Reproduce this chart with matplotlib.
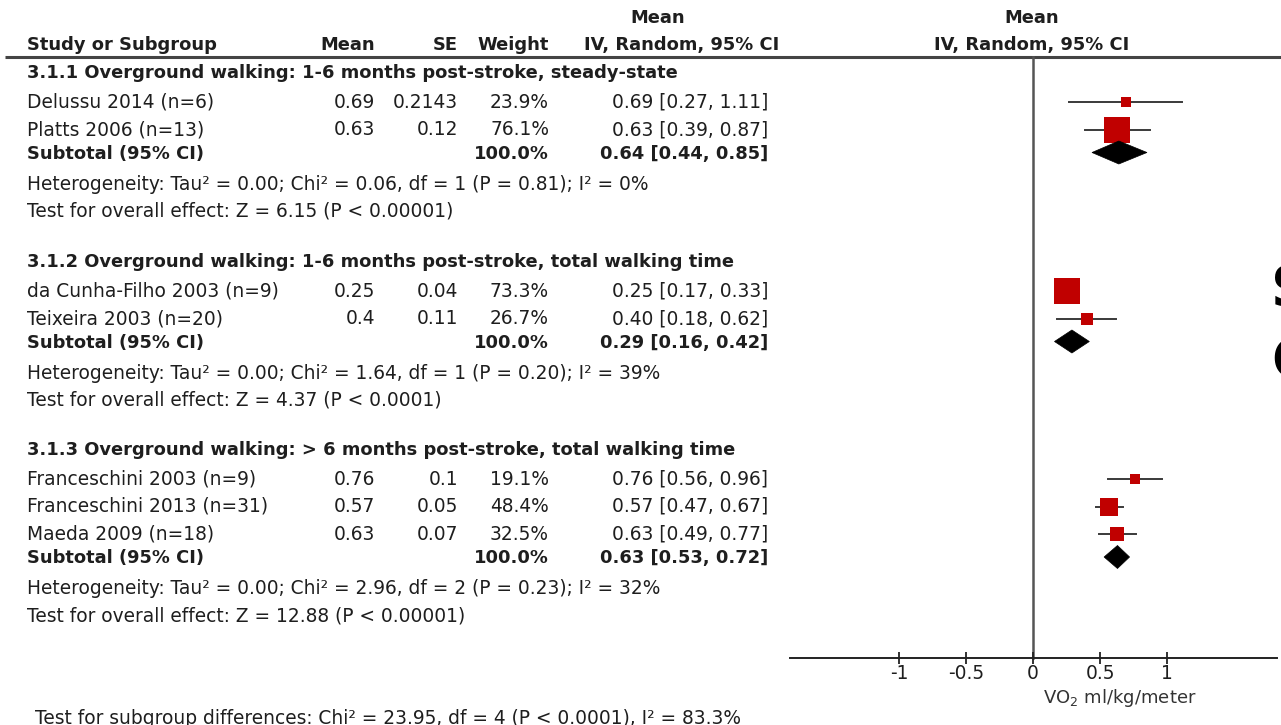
import matplotlib
matplotlib.use("Agg")
import matplotlib.pyplot as plt
from matplotlib.patches import Polygon

plt.rcParams['font.family'] = ['DejaVu Sans']
plt.rcParams['mathtext.fontset'] = 'dejavusans'

# ---- data -------------------------------------------------------------
group_titles = [
    "3.1.1 Overground walking: 1-6 months post-stroke, steady-state",
    "3.1.2 Overground walking: 1-6 months post-stroke, total walking time",
    "3.1.3 Overground walking: > 6 months post-stroke, total walking time",
]
study_names = [
    "Delussu 2014 (n=6)", "Platts 2006 (n=13)",
    "da Cunha-Filho 2003 (n=9)", "Teixeira 2003 (n=20)",
    "Franceschini 2003 (n=9)", "Franceschini 2013 (n=31)", "Maeda 2009 (n=18)",
]
study_group = [0, 0, 1, 1, 2, 2, 2]
study_mean = [0.69, 0.63, 0.25, 0.4, 0.76, 0.57, 0.63]
study_se = [0.2143, 0.12, 0.04, 0.11, 0.1, 0.05, 0.07]
study_weight = [23.9, 76.1, 73.3, 26.7, 19.1, 48.4, 32.5]
study_lo = [0.27, 0.39, 0.17, 0.18, 0.56, 0.47, 0.49]
study_hi = [1.11, 0.87, 0.33, 0.62, 0.96, 0.67, 0.77]

sub_est = [0.64, 0.29, 0.63]
sub_lo = [0.44, 0.16, 0.53]
sub_hi = [0.85, 0.42, 0.72]
het_tau2 = [0.00, 0.00, 0.00]
het_chi2 = [0.06, 1.64, 2.96]
het_df = [1, 1, 2]
het_p = [0.81, 0.20, 0.23]
het_i2 = [0, 39, 32]
overall_z = [6.15, 4.37, 12.88]
overall_p = ["P < 0.00001", "P < 0.0001", "P < 0.00001"]

x_ticks = [-1, -0.5, 0, 0.5, 1]
x_tick_labels = ["-1", "-0.5", "0", "0.5", "1"]

# ---- figure -----------------------------------------------------------
W, H = 1281, 725
fig = plt.figure(figsize=(W / 100, H / 100), dpi=100)
fig.patch.set_facecolor("white")

# table area in pixel coordinates
tx = fig.add_axes([0, 0, 1, 1])
tx.set_xlim(0, W)
tx.set_ylim(H, 0)
tx.axis("off")

TXT = "#1e1e1e"
FS = 13.4      # regular text
FB = 12.9      # bold text
fx = fig.add_axes([790 / W, 0, (1277 - 790) / W, 1])
fx.set_xlim(-1.813, 1.82)
fx.set_ylim(H, 0)
fx.patch.set_alpha(0)


def put(x, y, s, ha="left", bold=False, **kw):
    tx.text(x, y, s, ha=ha, va="center", fontsize=FB if bold else FS,
            weight="bold" if bold else "normal", color=TXT, **kw)


# column positions
c_name, c_mean, c_se, c_w, c_ci = 27, 375, 458, 549, 768

# header
put(658, 18, "Mean", ha="center", bold=True)
put(1032, 18, "Mean", ha="center", bold=True)
put(c_name, 45, "Study or Subgroup", bold=True)
put(c_mean, 45, "Mean", ha="right", bold=True)
put(c_se, 45, "SE", ha="right", bold=True)
put(c_w, 45, "Weight", ha="right", bold=True)
put(779, 45, "IV, Random, 95% CI", ha="right", bold=True)
put(1032, 45, "IV, Random, 95% CI", ha="center", bold=True)
tx.plot([5, W], [57, 57], color="#444444", lw=2.2, solid_capstyle="butt")

group_start = [73, 262, 450]
AXIS_Y = 658

for g, title in enumerate(group_titles):
    y = group_start[g]
    put(c_name, y, title, bold=True)
    y += 29
    idx = [i for i, gg in enumerate(study_group) if gg == g]
    for k, i in enumerate(idx):
        if k > 0:
            y += 27.5
        put(c_name, y, study_names[i])
        put(c_mean, y, f"{study_mean[i]:g}", ha="right")
        put(c_se, y, f"{study_se[i]:g}", ha="right")
        put(c_w, y, f"{study_weight[i]:.1f}%", ha="right")
        put(c_ci, y, f"{study_mean[i]:.2f} [{study_lo[i]:.2f}, {study_hi[i]:.2f}]", ha="right")
        # confidence interval and weighted square
        fx.plot([study_lo[i], study_hi[i]], [y, y], color="#3a3a3a", lw=1.4, zorder=2)
        side = study_weight[i] ** 0.75  # pixels
        fx.plot([study_mean[i]], [y], marker="s", ms=side * 0.72, color="#c00000",
                mew=0, zorder=3)
    y += 24
    put(c_name, y, "Subtotal (95% CI)", bold=True)
    put(c_w, y, "100.0%", ha="right", bold=True)
    put(c_ci, y, f"{sub_est[g]:.2f} [{sub_lo[g]:.2f}, {sub_hi[g]:.2f}]", ha="right", bold=True)
    half_h = 11.5
    fx.add_patch(Polygon([[sub_lo[g], y - 1], [sub_est[g], y - 1 - half_h],
                          [sub_hi[g], y - 1], [sub_est[g], y - 1 + half_h]],
                         closed=True, facecolor="black", edgecolor="black", lw=0.5, zorder=3))
    y += 30.5
    put(c_name, y,
        f"Heterogeneity: Tau² = {het_tau2[g]:.2f}; Chi² = {het_chi2[g]:.2f}, df = {het_df[g]} "
        f"(P = {het_p[g]:.2f}); I² = {het_i2[g]}%")
    y += 27
    put(c_name, y, f"Test for overall effect: Z = {overall_z[g]:.2f} ({overall_p[g]})")

put(35, 718, "Test for subgroup differences: Chi² = 23.95, df = 4 (P < 0.0001), I² = 83.3%")

# forest axis
fx.plot([0, 0], [57, AXIS_Y], color="#555555", lw=1.8, zorder=1)
for s in ["top", "right", "left"]:
    fx.spines[s].set_visible(False)
fx.spines["bottom"].set_position(("data", AXIS_Y))
fx.spines["bottom"].set_color("#222222")
fx.spines["bottom"].set_linewidth(1.4)
fx.set_yticks([])
fx.set_xticks(x_ticks)
fx.set_xticklabels(x_tick_labels)
fx.tick_params(axis="x", direction="inout", length=8, width=1.3, color="#222222",
               labelsize=FS, labelcolor=TXT, pad=0)
tx.text(1120, 698, r"VO$_2$ ml/kg/meter", ha="center", va="center", fontsize=13, color="#333333")

# large partially visible letters at the right edge
tx.text(1271, 290, "S", ha="left", va="center", fontsize=40, weight="bold", color="black")
tx.text(1271, 362, "C", ha="left", va="center", fontsize=40, weight="bold", color="black")

fig.savefig("out.png", dpi=100, facecolor="white")
